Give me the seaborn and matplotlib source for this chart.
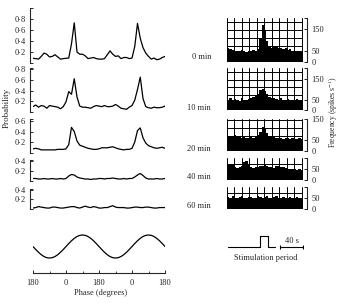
import numpy as np
import pandas as pd
import seaborn as sns
import matplotlib
matplotlib.use('Agg')
import matplotlib.pyplot as plt
from matplotlib.ticker import FixedLocator, MultipleLocator

sns.set_style('ticks')
plt.rcParams['font.family'] = ['Liberation Serif', 'DejaVu Serif']
plt.rcParams['mathtext.fontset'] = 'stix'

# phase bins (degrees), two cycles
phase = np.arange(-180, 541, 15)

p_0min = [0.085, 0.08, 0.07, 0.12, 0.18, 0.16, 0.11, 0.12, 0.15, 0.11, 0.07, 0.08, 0.085,
          0.09, 0.35, 0.73, 0.2, 0.16, 0.16, 0.13, 0.08, 0.09, 0.1, 0.08, 0.07, 0.07, 0.08,
          0.15, 0.22, 0.16, 0.12, 0.13, 0.08, 0.1, 0.1, 0.08, 0.09, 0.3, 0.72, 0.45, 0.28,
          0.18, 0.12, 0.07, 0.09, 0.06, 0.07, 0.1, 0.12]
p_10min = [0.1, 0.13, 0.09, 0.12, 0.11, 0.07, 0.12, 0.11, 0.1, 0.09, 0.06, 0.1, 0.19,
           0.38, 0.33, 0.62, 0.28, 0.11, 0.09, 0.09, 0.08, 0.07, 0.1, 0.12, 0.11, 0.1, 0.12,
           0.1, 0.1, 0.11, 0.14, 0.11, 0.07, 0.06, 0.05, 0.09, 0.12, 0.22, 0.42, 0.65, 0.25,
           0.1, 0.08, 0.07, 0.09, 0.08, 0.08, 0.09, 0.11]
p_20min = [0.07, 0.08, 0.07, 0.05, 0.05, 0.05, 0.05, 0.05, 0.05, 0.06, 0.06, 0.06, 0.07,
           0.15, 0.48, 0.4, 0.22, 0.14, 0.12, 0.1, 0.08, 0.07, 0.06, 0.06, 0.07, 0.09, 0.09,
           0.09, 0.1, 0.11, 0.09, 0.07, 0.06, 0.05, 0.06, 0.06, 0.08, 0.2, 0.42, 0.47, 0.28,
           0.18, 0.13, 0.11, 0.09, 0.08, 0.09, 0.1, 0.08]
p_40min = [0.05, 0.05, 0.04, 0.04, 0.05, 0.04, 0.04, 0.05, 0.04, 0.04, 0.05, 0.04, 0.05,
           0.1, 0.13, 0.12, 0.08, 0.06, 0.05, 0.04, 0.04, 0.03, 0.04, 0.04, 0.05, 0.05, 0.04,
           0.05, 0.05, 0.06, 0.05, 0.04, 0.04, 0.05, 0.04, 0.05, 0.05, 0.08, 0.12, 0.15, 0.11,
           0.06, 0.04, 0.04, 0.04, 0.05, 0.04, 0.04, 0.05]
p_60min = [0.02, 0.03, 0.05, 0.04, 0.03, 0.02, 0.02, 0.04, 0.04, 0.03, 0.02, 0.02, 0.03,
           0.04, 0.05, 0.05, 0.03, 0.02, 0.04, 0.06, 0.04, 0.03, 0.05, 0.04, 0.02, 0.02, 0.03,
           0.03, 0.05, 0.07, 0.04, 0.03, 0.03, 0.03, 0.02, 0.02, 0.03, 0.04, 0.04, 0.03, 0.03,
           0.04, 0.04, 0.03, 0.02, 0.02, 0.03, 0.03, 0.03]

# sinusoidal stimulus, read at the same phase bins
stimulus = [0, -0.26, -0.5, -0.71, -0.87, -0.97, -1, -0.97, -0.87, -0.71, -0.5, -0.26, 0,
            0.26, 0.5, 0.71, 0.87, 0.97, 1, 0.97, 0.87, 0.71, 0.5, 0.26, 0,
            -0.26, -0.5, -0.71, -0.87, -0.97, -1, -0.97, -0.87, -0.71, -0.5, -0.26, 0,
            0.26, 0.5, 0.71, 0.87, 0.97, 1, 0.97, 0.87, 0.71, 0.5, 0.26, 0]

phase_ticks = [-180, 0, 180, 360, 540]
phase_labels = ['180', '0', '180', '0', '180']

# firing frequency (spikes/s), 4 s bins over the record
t_bins = np.arange(2, 132, 4)
f_0min = [62, 58, 55, 50, 52, 48, 55, 50, 47, 52, 50, 55, 48, 60, 110, 170, 140, 95, 70,
          62, 68, 75, 65, 62, 58, 62, 55, 58, 52, 50, 48, 52, 50]
f_10min = [50, 55, 48, 52, 50, 45, 55, 50, 48, 52, 55, 60, 65, 75, 95, 100, 90, 75, 62,
           58, 55, 52, 50, 55, 50, 48, 52, 50, 47, 50, 52, 48, 50]
f_20min = [70, 72, 68, 75, 70, 65, 62, 65, 60, 62, 65, 60, 68, 75, 90, 112, 105, 85, 72,
           68, 65, 62, 60, 62, 58, 60, 62, 58, 60, 55, 58, 60, 58]
f_40min = [70, 75, 68, 60, 55, 58, 62, 80, 85, 75, 60, 55, 58, 60, 62, 65, 70, 62, 60,
           58, 55, 62, 65, 60, 58, 55, 50, 52, 48, 50, 45, 48, 45]
f_60min = [55, 50, 58, 52, 48, 55, 60, 52, 50, 56, 54, 48, 52, 58, 55, 50, 53, 57, 52,
           48, 55, 58, 50, 52, 55, 48, 50, 54, 52, 50, 55, 52, 50]

stim_t = [2, 57, 57, 71, 71, 83]
stim_v = [0, 0, 1, 1, 0, 0]
scale_t = [92, 132]

minutes = ['0 min', '10 min', '20 min', '40 min', '60 min']

W, H = 341, 304


def rect(x0, y0, x1, y1):
    return [x0 / W, 1 - y1 / H, (x1 - x0) / W, (y1 - y0) / H]


def fmt(v):
    return f'{v:.1f}'.replace('.', '\u00b7')


fig = plt.figure(figsize=(3.41, 3.04), dpi=100)
fs = 6

# left: phase histograms
prob_layout = [((8, 63), 1.0, [0.2, 0.4, 0.6, 0.8], 57),
               ((68, 112), 0.82, [0.2, 0.4, 0.6, 0.8], 108),
               ((119, 152.5), 0.64, [0.2, 0.4, 0.6], 149),
               ((160, 181), 0.42, [0.2, 0.4], 177),
               ((189, 209), 0.42, [0.2, 0.4], 206)]
prob_data = [p_0min, p_10min, p_20min, p_40min, p_60min]

for values, (yy, ymax, ticks, ly), name in zip(prob_data, prob_layout, minutes):
    ax = fig.add_axes(rect(33, yy[0], 165, yy[1]))
    df = pd.DataFrame({'phase': phase, 'prob': values})
    sns.lineplot(data=df, x='phase', y='prob', ax=ax, color='k', lw=0.9)
    ax.set_xlim(-180, 540)
    ax.set_ylim(0, ymax)
    ax.set_xlabel('')
    ax.set_ylabel('')
    ax.set_xticks([])
    ax.set_yticks(ticks, [fmt(t) for t in ticks])
    ax.yaxis.set_minor_locator(FixedLocator([0, ymax]))
    ax.tick_params(axis='y', which='both', direction='in', length=2, width=0.7,
                   labelsize=fs, pad=3)
    for s in ['top', 'right', 'bottom']:
        ax.spines[s].set_visible(False)
    ax.spines['left'].set_position(('outward', 2.2))
    ax.spines['left'].set_bounds(0, ymax)
    ax.spines['left'].set_linewidth(0.8)
    ax.patch.set_alpha(0)
    fig.text(211 / W, 1 - ly / H, name, ha='right', va='center', fontsize=fs)

# stimulus sinusoid with phase axis
ax = fig.add_axes(rect(33, 230, 165, 273))
sns.lineplot(x=phase, y=stimulus, ax=ax, color='k', lw=0.9)
ax.set_xlim(-180, 540)
ax.set_ylim(-2.3, 1.435)
ax.set_yticks([])
ax.set_xticks(phase_ticks, phase_labels)
ax.xaxis.set_minor_locator(MultipleLocator(90))
ax.tick_params(axis='x', which='major', direction='in', length=2.5, width=0.7,
               labelsize=fs, pad=4)
ax.tick_params(axis='x', which='minor', direction='in', length=1.8, width=0.6)
for s in ['top', 'right', 'left']:
    ax.spines[s].set_visible(False)
ax.spines['bottom'].set_linewidth(0.8)
ax.patch.set_alpha(0)

fig.text(101 / W, 1 - 293 / H, 'Phase (degrees)', ha='center', va='center', fontsize=fs)
fig.text(7 / W, 1 - 108 / H, 'Probability', ha='center', va='center', rotation=90,
         fontsize=6.5)

# right: frequency records
hist_layout = [((18, 62), 200, [0, 50, 150, 200], ['0', '50', '150', '']),
               ((68, 110), 200, [0, 50, 150, 200], ['0', '50', '150', '']),
               ((119, 151), 150, [0, 50, 150], ['0', '50', '150']),
               ((158, 180), 100, [0, 50, 100], ['0', '50', '']),
               ((187, 209), 100, [0, 50, 100], ['0', '50', ''])]
hist_data = [f_0min, f_10min, f_20min, f_40min, f_60min]

for freq, (yy, ymax, ticks, labels) in zip(hist_data, hist_layout):
    ax = fig.add_axes(rect(227, yy[0], 303, yy[1]))
    ax.bar(t_bins, freq, width=4, color='k', lw=0, zorder=2)
    ax.set_xlim(0, 132)
    ax.set_ylim(0, ymax)
    ax.xaxis.set_minor_locator(MultipleLocator(13))
    ax.yaxis.set_minor_locator(MultipleLocator(36))
    ax.grid(which='minor', color='k', lw=0.7)
    ax.set_xticks([])
    ax.yaxis.tick_right()
    ax.set_yticks(ticks, labels)
    ax.tick_params(which='minor', length=0)
    ax.tick_params(axis='y', which='major', direction='in', length=2, width=0.7,
                   labelsize=fs, pad=3)
    for s in ['top', 'left', 'bottom']:
        ax.spines[s].set_visible(False)
    ax.spines['right'].set_position(('outward', 3.2))
    ax.spines['right'].set_bounds(0, ymax)
    ax.spines['right'].set_linewidth(0.8)

fig.text(333 / W, 1 - 112 / H, r'Frequency (spikes s$^{-1}$)', ha='center', va='center',
         rotation=90, fontsize=5.5)

# stimulation period trace and 40 s scale bar
ax = fig.add_axes(rect(227, 230, 303, 250))
ax.plot(stim_t, stim_v, color='k', lw=0.8)
ax.plot(scale_t, [0, 0], color='k', lw=0.8, marker='|', ms=3, mew=0.8)
ax.set_xlim(0, 132)
ax.set_ylim(-0.27, 1.545)
ax.axis('off')
fig.text(292 / W, 1 - 241 / H, '40 s', ha='center', va='center', fontsize=fs)
fig.text(265.5 / W, 1 - 258 / H, 'Stimulation period', ha='center', va='center',
         fontsize=fs)

fig.savefig('out.png', dpi=100)
